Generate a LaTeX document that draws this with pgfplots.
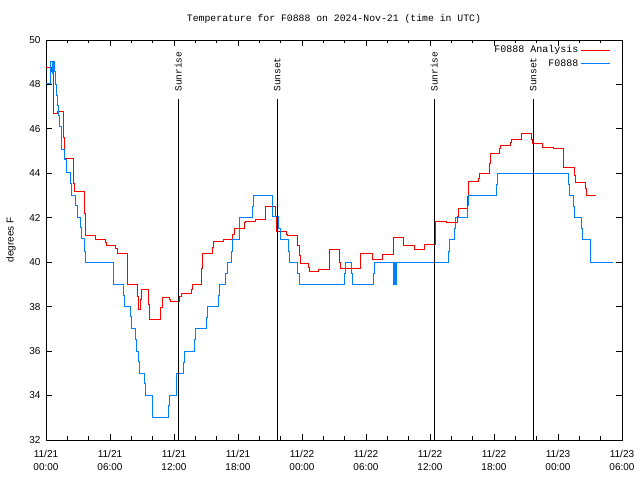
\documentclass[border=0pt]{standalone}
\usepackage{pgfplots}
\pgfplotsset{compat=1.18}
\usepackage{fontspec}
\setmainfont{Liberation Sans}
\newfontfamily\monof{Liberation Mono}
\definecolor{gpred}{rgb}{1,0,0}
\definecolor{gpblue}{rgb}{0,0.5,1}
\begin{document}
\begin{tikzpicture}
\fill[white] (-46bp,-40bp) rectangle (594bp,440bp);
\begin{axis}[
  at={(0,0)}, anchor=south west,
  scale only axis, width=576bp, height=400bp,
  xmin=0, xmax=54, ymin=32, ymax=50,
  xtick={0,6,...,54},
  xticklabels={{11/21\\00:00},{11/21\\06:00},{11/21\\12:00},{11/21\\18:00},{11/22\\00:00},{11/22\\06:00},{11/22\\12:00},{11/22\\18:00},{11/23\\00:00},{11/23\\06:00}},
  minor x tick num=2,
  ytick={32,34,...,50},
  tick pos=both, tick align=inside,
  major tick length=6bp, minor tick length=3.5bp,
  every tick/.style={black, line width=0.8bp},
  axis line style={line width=0.8bp},
  /pgf/number format/assume math mode=true,
  xticklabel style={align=center, font=\fontsize{10bp}{12.5bp}\selectfont, yshift=-7bp},
  yticklabel style={font=\fontsize{10bp}{12bp}\selectfont, xshift=-2bp},
  ylabel={degrees F},
  every axis y label/.style={at={(axis description cs:-0.0608,0.5)}, rotate=90, anchor=center, font=\fontsize{10bp}{12bp}\selectfont},
  title={Temperature for F0888 on 2024-Nov-21 (time in UTC)},
  every axis title/.style={at={(axis description cs:0.5,1.045)}, anchor=base, font=\monof\fontsize{9.8bp}{12bp}\selectfont},
  legend style={at={(axis description cs:1,1)}, anchor=north east, draw=none, fill=none, xshift=-11bp, yshift=-3.5bp,
    font=\monof\fontsize{10bp}{12bp}\selectfont, inner sep=0pt, row sep=1.4bp,
    nodes={inner sep=2bp}},
  legend plot pos=right, legend cell align=right,
  legend image code/.code={\draw[#1, sharp plot] (-1.5bp,0bp) -- (28bp,0bp);},
]
\addplot[color=gpred, line width=1bp, const plot] coordinates {
(0,48.77) (0.56,48.57) (0.66,46.7) (1.06,46.8) (1.63,45.6) (1.72,44.68)
(2.56,43.56) (2.66,43.17) (3.6,42.2) (3.66,41.22) (4.6,41.15) (4.66,41.0)
(5.6,40.88) (5.66,40.73) (6.56,40.6) (6.66,40.37) (7.62,39.7) (7.66,39.0)
(8.56,38.45) (8.66,37.85) (8.88,38.3) (8.97,38.78) (9.59,38.08) (9.69,37.4)
(10.75,37.95) (10.88,38.42) (11.56,38.33) (11.69,38.25) (12.56,38.45) (12.72,38.6)
(13.66,38.78) (13.75,39.0) (14.6,39.7) (14.65,40.4) (15.59,40.67) (15.69,40.92)
(16.62,41.0) (17.5,41.25) (17.65,41.52) (18.59,41.78) (18.72,41.85) (19.66,41.9)
(20.6,42.5) (21.53,42.05) (21.62,41.4) (22.56,41.25) (22.66,41.2) (23.6,40.77)
(23.72,40.3) (23.9,39.95) (24.59,39.75) (24.69,39.6) (25.59,39.65) (26.56,40.55)
(27.56,40.0) (27.65,39.73) (29.53,40.4) (30.63,40.1) (31.56,40.35) (32.56,41.12)
(33.56,40.77) (34.59,40.55) (35.53,40.8) (36.56,41.85) (37.56,41.8) (38.56,42.05)
(38.65,42.43) (39.53,42.95) (39.63,43.65) (40.53,43.78) (40.62,43.97) (41.56,44.45)
(41.65,44.9) (42.5,45.1) (42.59,45.23) (43.56,45.4) (43.66,45.5) (44.6,45.8)
(45.53,45.5) (45.63,45.32) (46.56,45.17) (47.62,45.1) (48.5,44.27) (49.53,43.9)
(49.66,43.57) (50.6,43.3) (50.69,43.01) (51.53,43.01)
};
\addlegendentry{F0888 Analysis}
\addplot[color=gpblue, line width=1bp, const plot] coordinates {
(0,48.02) (0.45,49.05) (0.6,48.5) (0.72,49.05) (0.82,48.57) (0.9,48.0)
(1.0,47.52) (1.12,47.05) (1.2,46.6) (1.31,46.1) (1.41,45.58) (1.47,45.05)
(1.78,44.6) (1.88,44.03) (2.31,43.55) (2.41,43.02) (2.81,42.53) (2.94,42.02)
(3.28,41.57) (3.37,41.07) (3.6,40.5) (3.66,40.0) (6.31,39.0) (7.25,38.52)
(7.34,38.0) (7.88,37.55) (7.97,37.03) (8.41,36.5) (8.5,35.97) (8.69,35.52)
(8.75,35.0) (9.22,34.55) (9.31,34.02) (9.97,33.02) (11.47,33.53) (11.56,34.0)
(12.19,35.0) (12.87,35.5) (12.97,36.0) (13.88,36.5) (13.97,37.0) (15.0,37.5)
(15.12,38.0) (16.15,38.5) (16.25,39.0) (16.87,39.5) (17.0,40.0) (17.4,40.5)
(17.5,41.0) (18.12,42.0) (19.34,42.5) (19.44,43.0) (21.22,42.05) (21.84,41.52)
(21.94,41.0) (22.72,40.5) (22.81,40.0) (23.6,39.5) (23.72,39.0) (28.03,39.5)
(28.12,40.0) (28.66,39.5) (28.75,39.0) (30.68,39.5) (30.78,40.0) (32.56,39.0)
(32.65,40.0) (32.75,39.0) (32.84,40.0) (37.72,40.5) (37.81,41.0) (38.28,41.52)
(38.37,42.02) (39.5,42.53) (39.59,43.01) (42.25,43.5) (42.34,44.0) (49.03,43.5)
(49.12,43.0) (49.43,42.5) (49.53,42.0) (50.22,41.5) (50.28,41.0) (51.0,40.5)
(51.06,40.0) (53.12,40.0)
};
\addlegendentry{F0888}
\addplot[black, line width=0.8bp, forget plot] coordinates {(12.4,32) (12.4,47.35)};
\addplot[black, line width=0.8bp, forget plot] coordinates {(21.68,32) (21.68,47.35)};
\addplot[black, line width=0.8bp, forget plot] coordinates {(36.4,32) (36.4,47.35)};
\addplot[black, line width=0.8bp, forget plot] coordinates {(45.69,32) (45.69,47.35)};
\node[rotate=90, anchor=west, inner sep=0pt, font=\monof\fontsize{9.5bp}{11bp}\selectfont] at (axis cs:12.4,47.67) {Sunrise};
\node[rotate=90, anchor=west, inner sep=0pt, font=\monof\fontsize{9.5bp}{11bp}\selectfont] at (axis cs:21.68,47.67) {Sunset};
\node[rotate=90, anchor=west, inner sep=0pt, font=\monof\fontsize{9.5bp}{11bp}\selectfont] at (axis cs:36.4,47.67) {Sunrise};
\node[rotate=90, anchor=west, inner sep=0pt, font=\monof\fontsize{9.5bp}{11bp}\selectfont] at (axis cs:45.69,47.67) {Sunset};
\end{axis}
\pgfresetboundingbox
\path[use as bounding box] (-46bp,-40bp) rectangle (594bp,440bp);
\end{tikzpicture}
\end{document}
